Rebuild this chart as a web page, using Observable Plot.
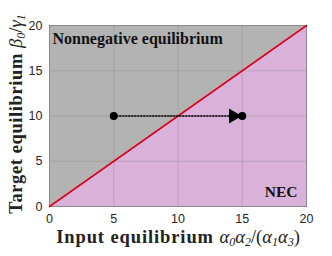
<!DOCTYPE html>
<html><head><meta charset="utf-8">
<script src="https://cdn.jsdelivr.net/npm/d3@7"></script>
<script src="https://cdn.jsdelivr.net/npm/@observablehq/plot@0.6"></script>
<style>body{margin:0;background:#fff}#c{width:332px;height:256px}</style>
</head><body><div id="c"></div>
<script>
const domainX = [0, 20];
const domainY = [0, 20];
const xTicks = [0, 5, 10, 15, 20];
const yTicks = [0, 5, 10, 15, 20];
const boundaryX = [0, 20];          // line beta0/gamma1 = input equilibrium
const boundaryY = [0, 20];
const arrowStartX = 5, arrowEndX = 15, arrowY = 10, arrowHeadX = 14.3;
const labelTop = "Nonnegative equilibrium";
const labelBottom = "NEC";

const boundary = boundaryX.map((x, i) => ({x, y: boundaryY[i]}));
const arrowPts = [{x: arrowStartX, y: arrowY}, {x: arrowEndX, y: arrowY}];

const serif = "Liberation Serif, DejaVu Serif, serif";
const W = 332, H = 256;
const plot = Plot.plot({
  width: W, height: H,
  marginLeft: 49, marginRight: 26, marginTop: 25, marginBottom: 50,
  style: {fontFamily: "'Liberation Sans', Arial, sans-serif", fontSize: "12px", background: "#fff"},
  x: {domain: domainX, ticks: xTicks, label: null},
  y: {domain: domainY, ticks: yTicks, label: null},
  marks: [
    Plot.areaY(boundary, {x: "x", y1: domainY[1], y2: "y", fill: "#b3b3b3"}),
    Plot.areaY(boundary, {x: "x", y1: domainY[0], y2: "y", fill: "#d9b1d9"}),
    Plot.gridX(xTicks, {stroke: "#888", strokeOpacity: 0.35, strokeWidth: 1}),
    Plot.gridY(yTicks, {stroke: "#888", strokeOpacity: 0.35, strokeWidth: 1}),
    Plot.frame({stroke: "#8a8a8a", strokeWidth: 1}),
    Plot.axisX({ticks: xTicks, tickSize: 0, tickPadding: 8, fill: "#262626", fontSize: 12.5}),
    Plot.axisY({ticks: yTicks, tickSize: 0, tickPadding: 7, fill: "#262626", fontSize: 12.5}),
    Plot.line(boundary, {x: "x", y: "y", stroke: "#d6001c", strokeWidth: 1.6}),
    Plot.line(arrowPts, {x: "x", y: "y", stroke: "#000", strokeWidth: 1.6, strokeDasharray: "1.2,1.8"}),
    Plot.dot([{x: arrowHeadX, y: arrowY}], {x: "x", y: "y", symbol: "triangle", rotate: 90, r: 5.5, fill: "#000"}),
    Plot.dot(arrowPts, {x: "x", y: "y", r: 4, fill: "#000"}),
    Plot.text([labelTop], {frameAnchor: "top-left", dx: 3, dy: 7, text: d => d, fontFamily: serif, fontWeight: "bold", fontSize: 16, letterSpacing: "0.2px", fill: "#111"}),
    Plot.text([labelBottom], {frameAnchor: "bottom-right", dx: -9, dy: -10, text: d => d, fontFamily: serif, fontWeight: "bold", fontSize: 15.5, letterSpacing: "0.4px", fill: "#111"})
  ]
});
document.getElementById("c").appendChild(plot);

const svg = d3.select(plot);
// x-axis label
const xl = svg.append("text").attr("x", 178).attr("y", 243).attr("text-anchor", "middle")
  .attr("font-family", serif).attr("font-size", 18.5).attr("fill", "#222");
xl.append("tspan").attr("font-weight", "bold").attr("letter-spacing", "0.9px").text("Input equilibrium ");
const xm = xl.append("tspan").attr("font-style", "italic");
xm.append("tspan").text("α");
xm.append("tspan").attr("font-size", 12).attr("dy", 3).text("0");
xm.append("tspan").attr("dy", -3).text("α");
xm.append("tspan").attr("font-size", 12).attr("dy", 3).text("2");
xm.append("tspan").attr("dy", -3).attr("font-style", "normal").text("/(");
xm.append("tspan").text("α");
xm.append("tspan").attr("font-size", 12).attr("dy", 3).text("1");
xm.append("tspan").attr("dy", -3).text("α");
xm.append("tspan").attr("font-size", 12).attr("dy", 3).text("3");
xm.append("tspan").attr("dy", -3).attr("font-style", "normal").text(")");
// y-axis label
const yl = svg.append("text").attr("transform", "translate(22,114) rotate(-90)").attr("text-anchor", "middle")
  .attr("font-family", serif).attr("font-size", 18.5).attr("fill", "#222");
yl.append("tspan").attr("font-weight", "bold").attr("letter-spacing", "0.6px").text("Target equilibrium ");
const ym = yl.append("tspan").attr("font-style", "italic");
ym.append("tspan").text("β");
ym.append("tspan").attr("font-size", 12).attr("dy", 3).text("0");
ym.append("tspan").attr("dy", -3).attr("font-style", "normal").text("/");
ym.append("tspan").text("γ");
ym.append("tspan").attr("font-size", 12).attr("dy", 3).text("1");
</script>
</body></html>
